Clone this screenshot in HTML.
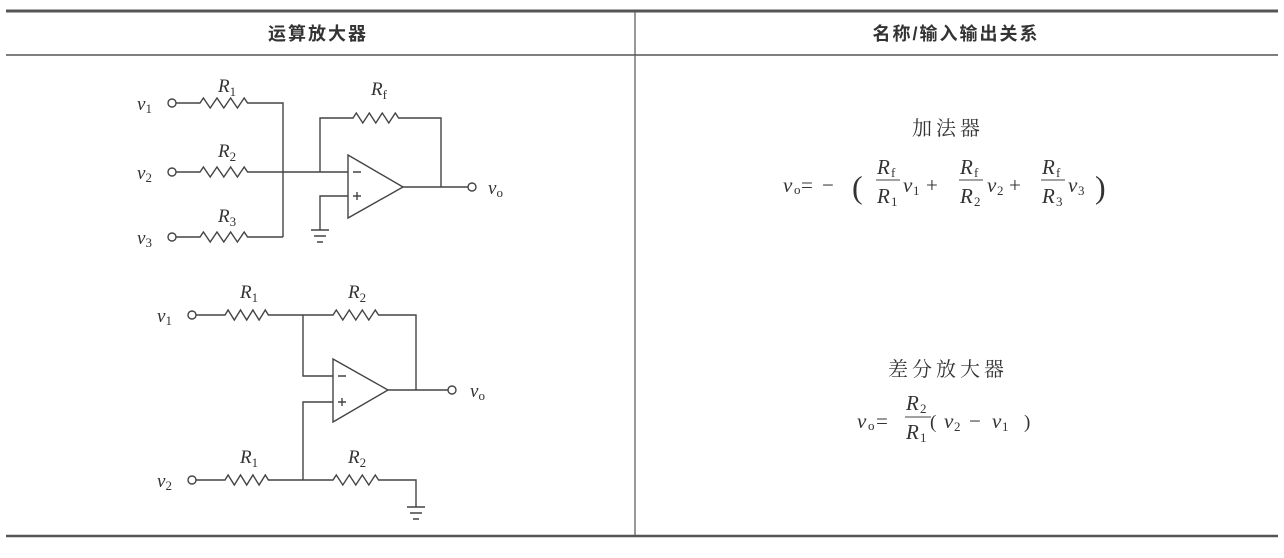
<!DOCTYPE html>
<html><head><meta charset="utf-8"><style>
body{margin:0;background:#fff;}
svg{display:block}
.t{font-family:"Liberation Serif",serif;font-style:italic;fill:#333}
.n{font-family:"Liberation Serif",serif;fill:#333}
.c{font-family:"Liberation Sans","Noto Sans CJK SC",sans-serif;fill:#333}
.s{font-family:"Liberation Serif","Noto Serif CJK SC",serif;fill:#333}
</style></head><body>
<svg width="1284" height="558" viewBox="0 0 1284 558" xmlns="http://www.w3.org/2000/svg">
<g stroke="#555" fill="none">
<line x1="6" y1="11" x2="1278" y2="11" stroke-width="3"/>
<line x1="6" y1="55" x2="1278" y2="55" stroke-width="1.5"/>
<line x1="6" y1="536" x2="1278" y2="536" stroke-width="2.5"/>
<line x1="635" y1="11" x2="635" y2="536" stroke-width="1.2"/>
</g>
<text class="c" x="318" y="40" font-size="18" font-weight="bold" text-anchor="middle" letter-spacing="2">运算放大器</text>
<text class="c" x="956" y="40" font-size="18" font-weight="bold" text-anchor="middle" letter-spacing="2">名称/输入输出关系</text>

<g stroke="#444" stroke-width="1.4" fill="none">
<circle cx="172" cy="103" r="4"/><circle cx="172" cy="172" r="4"/><circle cx="172" cy="237" r="4"/>
<path d="M176 103H200l3.4-5 6.8 10 6.8-10 6.8 10 6.8-10 6.8 10 6.8-10 3.4 5H283V237"/>
<path d="M176 172H200l3.4-5 6.8 10 6.8-10 6.8 10 6.8-10 6.8 10 6.8-10 3.4 5H348"/>
<path d="M176 237H200l3.4-5 6.8 10 6.8-10 6.8 10 6.8-10 6.8 10 6.8-10 3.4 5H283"/>
<path d="M320 172V118H353l3.3-5 6.5 10 6.5-10 6.5 10 6.5-10 6.5 10 6.5-10 3.3 5H441V187"/>
<path d="M348 155L403 187L348 218Z"/>
<path d="M403 187H468"/><circle cx="472" cy="187" r="4"/>
<path d="M348 196H320V230M311 230h18M314 236h12M317 242h6"/>
<path d="M353 172h8M353 196h8M357 192v8"/>
<circle cx="192" cy="315" r="4"/><circle cx="192" cy="480" r="4"/>
<path d="M196 315H225l3.1-5 6.2 10 6.2-10 6.2 10 6.2-10 6.2 10 6.2-10 3.1 5H333l3.3-5 6.5 10 6.5-10 6.5 10 6.5-10 6.5 10 6.5-10 3.3 5H416V390"/>
<path d="M303 315V376H333"/>
<path d="M196 480H225l3.1-5 6.2 10 6.2-10 6.2 10 6.2-10 6.2 10 6.2-10 3.1 5H333l3.3-5 6.5 10 6.5-10 6.5 10 6.5-10 6.5 10 6.5-10 3.3 5H416V507M407 507h18M410 513h12M413 519h6"/>
<path d="M303 480V402H333"/>
<path d="M333 359L388 390L333 422Z"/>
<path d="M388 390H448"/><circle cx="452" cy="390" r="4"/>
<path d="M338 376h8M338 402h8M342 398v8"/>
</g>
<g class="t" font-size="19">
<text x="137" y="110">v<tspan font-size="13" font-style="normal" dy="3">1</tspan></text>
<text x="137" y="179">v<tspan font-size="13" font-style="normal" dy="3">2</tspan></text>
<text x="137" y="244">v<tspan font-size="13" font-style="normal" dy="3">3</tspan></text>
<text x="218" y="92">R<tspan font-size="13" font-style="normal" dy="4">1</tspan></text>
<text x="218" y="157">R<tspan font-size="13" font-style="normal" dy="4">2</tspan></text>
<text x="218" y="222">R<tspan font-size="13" font-style="normal" dy="4">3</tspan></text>
<text x="371" y="95">R<tspan font-size="13" font-style="normal" dy="4">f</tspan></text>
<text x="488" y="194">v<tspan font-size="13" font-style="normal" dy="3">o</tspan></text>
<text x="157" y="322">v<tspan font-size="13" font-style="normal" dy="3">1</tspan></text>
<text x="157" y="487">v<tspan font-size="13" font-style="normal" dy="3">2</tspan></text>
<text x="240" y="298">R<tspan font-size="13" font-style="normal" dy="4">1</tspan></text>
<text x="348" y="298">R<tspan font-size="13" font-style="normal" dy="4">2</tspan></text>
<text x="240" y="463">R<tspan font-size="13" font-style="normal" dy="4">1</tspan></text>
<text x="348" y="463">R<tspan font-size="13" font-style="normal" dy="4">2</tspan></text>
<text x="470" y="397">v<tspan font-size="13" font-style="normal" dy="3">o</tspan></text>
</g>

<text class="s" x="948" y="135" font-size="20" text-anchor="middle" letter-spacing="4">加法器</text>
<text class="t" x="783" y="192" font-size="21">v</text><text class="n" x="794" y="194" font-size="13">o</text>
<text class="n" x="801" y="192" font-size="21">=</text><text class="n" x="822" y="192" font-size="21">−</text>
<text class="n" x="852" y="198" font-size="32">(</text>
<text class="t" x="877" y="174" font-size="21">R</text><text class="n" x="891" y="177" font-size="13">f</text>
<text class="t" x="877" y="203" font-size="21">R</text><text class="n" x="891" y="206" font-size="13">1</text>
<text class="t" x="903" y="192" font-size="21">v</text><text class="n" x="913" y="195" font-size="13">1</text>
<text class="n" x="926" y="192" font-size="21">+</text>
<text class="t" x="960" y="174" font-size="21">R</text><text class="n" x="974" y="177" font-size="13">f</text>
<text class="t" x="960" y="203" font-size="21">R</text><text class="n" x="974" y="206" font-size="13">2</text>
<text class="t" x="987" y="192" font-size="21">v</text><text class="n" x="997" y="195" font-size="13">2</text>
<text class="n" x="1009" y="192" font-size="21">+</text>
<text class="t" x="1042" y="174" font-size="21">R</text><text class="n" x="1056" y="177" font-size="13">f</text>
<text class="t" x="1042" y="203" font-size="21">R</text><text class="n" x="1056" y="206" font-size="13">3</text>
<text class="t" x="1068" y="192" font-size="21">v</text><text class="n" x="1078" y="195" font-size="13">3</text>
<text class="n" x="1095" y="198" font-size="32">)</text>
<g stroke="#444" stroke-width="1.1">
<line x1="876" y1="180" x2="900" y2="180"/><line x1="959" y1="180" x2="983" y2="180"/><line x1="1041" y1="180" x2="1065" y2="180"/>
<line x1="905" y1="417" x2="931" y2="417"/>
</g>

<text class="s" x="948" y="376" font-size="20" text-anchor="middle" letter-spacing="4">差分放大器</text>
<text class="t" x="857" y="428" font-size="21">v</text><text class="n" x="868" y="430" font-size="13">o</text>
<text class="n" x="876" y="428" font-size="21">=</text>
<text class="t" x="906" y="410" font-size="21">R</text><text class="n" x="920" y="413" font-size="13">2</text>
<text class="t" x="906" y="439" font-size="21">R</text><text class="n" x="920" y="442" font-size="13">1</text>
<text class="n" x="930" y="428" font-size="19">(</text>
<text class="t" x="944" y="428" font-size="21">v</text><text class="n" x="954" y="431" font-size="13">2</text>
<text class="n" x="969" y="428" font-size="21">−</text>
<text class="t" x="992" y="428" font-size="21">v</text><text class="n" x="1002" y="431" font-size="13">1</text>
<text class="n" x="1024" y="428" font-size="19">)</text>
</svg>
</body></html>
